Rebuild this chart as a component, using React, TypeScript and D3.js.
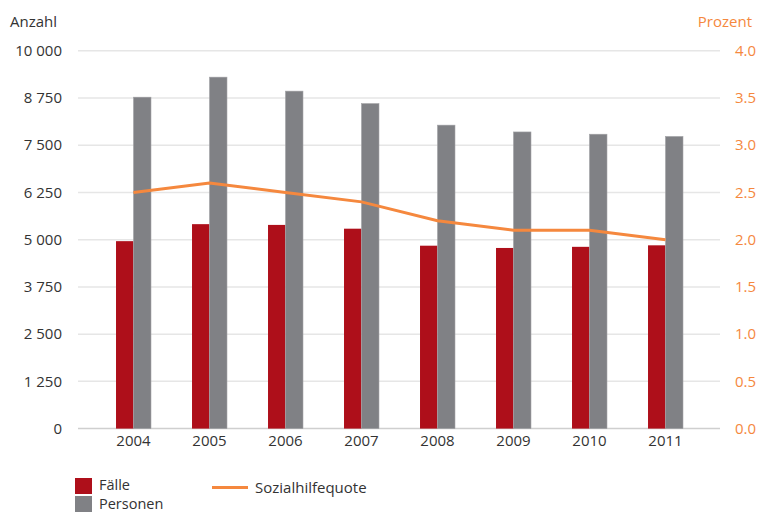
import React from "react";
import * as d3 from "d3";

const years = ["2004", "2005", "2006", "2007", "2008", "2009", "2010", "2011"];
const faelle = [4960, 5410, 5390, 5290, 4840, 4780, 4810, 4850];
const personen = [8770, 9300, 8930, 8600, 8030, 7850, 7790, 7730];
const quote = [2.5, 2.6, 2.5, 2.4, 2.2, 2.1, 2.1, 2.0];
const leftTicks = [0, 1250, 2500, 3750, 5000, 6250, 7500, 8750, 10000];
const rightTicks = [0, 0.5, 1, 1.5, 2, 2.5, 3, 3.5, 4];

const W = 760, H = 513;
const RED = "#ae0f1a", GRAY = "#808185", ORANGE = "#f5883e", TEXT = "#333333";
const FONT = "'Open Sans', sans-serif";

export default function App() {
  const y = d3.scaleLinear().domain([0, 10000]).range([428.6, 50.7]);
  const yR = d3.scaleLinear().domain([0, 4]).range([428.6, 50.7]);
  const x = d3.scaleBand().domain(years).range([95.5, 703.5]).paddingInner(0.54).paddingOuter(0.27);
  const bw = x.bandwidth() / 2;
  const fmt = (v: number) => d3.format(",")(v).replace(/,/g, " ");
  const line = d3.line<number>()
    .x((_, i) => (x(years[i]) as number) + x.bandwidth() / 2)
    .y((d) => yR(d));

  return (
    <svg width={W} height={H} style={{ position: "absolute", left: 0, top: 0, fontFamily: FONT }}>
      <rect width={W} height={H} fill="#fff" />
      {leftTicks.map((t) => (
        <line key={t} x1={78} x2={720} y1={y(t)} y2={y(t)} stroke={t === 0 ? "#cfcfcf" : "#e6e6e6"} strokeWidth={1.5} />
      ))}
      {leftTicks.map((t) => (
        <text key={t} x={62} y={y(t)} dy="0.35em" textAnchor="end" fontSize={15} fill={TEXT}>{fmt(t)}</text>
      ))}
      {rightTicks.map((t) => (
        <text key={t} x={735} y={yR(t)} dy="0.35em" textAnchor="start" fontSize={15} fill={ORANGE}>{d3.format(".1f")(t)}</text>
      ))}
      <text x={10} y={27} fontSize={15} fill={TEXT}>Anzahl</text>
      <text x={752} y={27} textAnchor="end" fontSize={15} fill={ORANGE}>Prozent</text>
      {years.map((yr, i) => (
        <g key={yr}>
          <rect x={x(yr)} y={y(faelle[i])} width={bw} height={y(0) - y(faelle[i])} fill={RED} />
          <rect x={(x(yr) as number) + bw} y={y(personen[i])} width={bw} height={y(0) - y(personen[i])} fill={GRAY} stroke="#a0a1a4" strokeWidth={0.6} />
          <text x={(x(yr) as number) + x.bandwidth() / 2} y={446} textAnchor="middle" fontSize={15} fill={TEXT}>{yr}</text>
        </g>
      ))}
      <path d={line(quote) || ""} fill="none" stroke={ORANGE} strokeWidth={3} />
      <rect x={75} y={478} width={17} height={16} fill={RED} />
      <rect x={75} y={496} width={17} height={16} fill={GRAY} />
      <text x={99} y={490} fontSize={14.5} fill={TEXT}>Fälle</text>
      <text x={99} y={508.5} fontSize={14.5} fill={TEXT}>Personen</text>
      <line x1={212} x2={248} y1={487.5} y2={487.5} stroke={ORANGE} strokeWidth={3} />
      <text x={255} y={493} fontSize={15} fill={TEXT}>Sozialhilfequote</text>
    </svg>
  );
}
